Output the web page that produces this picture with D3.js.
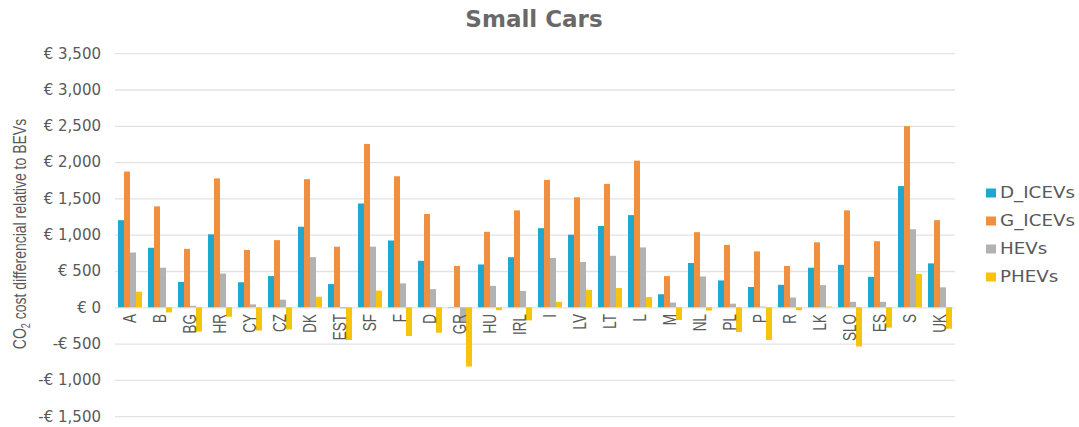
<!DOCTYPE html>
<html>
<head>
<meta charset="utf-8">
<script src="https://cdn.jsdelivr.net/npm/d3@7"></script>
<style>
  body { margin: 0; background: #fff; }
  svg { display: block; }
</style>
</head>
<body>
<div id="chart"></div>
<script>
// values, EUR
const countries = ['A', 'B', 'BG', 'HR', 'CY', 'CZ', 'DK', 'EST', 'SF', 'F', 'D', 'GR', 'HU', 'IRL',
  'I', 'LV', 'LT', 'L', 'M', 'NL', 'PL', 'P', 'R', 'LK', 'SLO', 'ES', 'S', 'UK'];
const seriesNames = ['D_ICEVs', 'G_ICEVs', 'HEVs', 'PHEVs'];
const dIcevs = [1200, 820, 350, 1005, 345, 430, 1110, 320, 1430, 920, 640, 5, 590, 690,
  1090, 1000, 1120, 1270, 180, 610, 370, 280, 310, 545, 585, 420, 1670, 605];
const gIcevs = [1870, 1390, 805, 1775, 790, 925, 1765, 835, 2250, 1805, 1285, 570, 1040, 1335,
  1755, 1515, 1700, 2020, 430, 1035, 860, 770, 570, 895, 1335, 910, 2495, 1200];
const hevs = [755, 545, 20, 465, 40, 105, 690, -15, 835, 330, 250, -195, 295, 225,
  680, 625, 710, 825, 65, 425, 50, 10, 135, 305, 75, 75, 1075, 275];
const phevs = [215, -70, -335, -130, -320, -305, 145, -450, 230, -395, -350, -815, -40, -180,
  75, 240, 265, 140, -175, -45, -340, -450, -40, 10, -540, -280, 460, -295];
const yTicks = [-1500, -1000, -500, 0, 500, 1000, 1500, 2000, 2500, 3000, 3500];
const colors = ['#1fa8cf', '#f08f3e', '#b2b2b2', '#f6c40c'];

const W = 1079, H = 427;
const plotL = 115, plotR = 955, plotT = 53.2, plotB = 416.2;
const allSeries = [dIcevs, gIcevs, hevs, phevs];

const svg = d3.select('#chart').append('svg').attr('width', W).attr('height', H);
svg.append('rect').attr('width', W).attr('height', H).attr('fill', '#fff');

const x0 = d3.scaleBand().domain(countries).range([plotL, plotR]).paddingInner(0.2).paddingOuter(0.1);
const x1 = d3.scaleBand().domain(seriesNames).range([0, x0.bandwidth()]);
const y = d3.scaleLinear().domain([-1500, 3500]).range([plotB, plotT]);

const euro = v => (v < 0 ? '-€ ' : '€ ') + d3.format(',')(Math.abs(v));

// gridlines + tick labels
const yAxis = svg.append('g')
  .attr('transform', `translate(${plotL},0)`)
  .call(d3.axisLeft(y).tickValues(yTicks).tickSize(-(plotR - plotL)).tickPadding(14).tickFormat(euro));
yAxis.select('.domain').remove();
yAxis.selectAll('.tick line').attr('stroke', '#e3e3e3').attr('stroke-width', 1.3);
yAxis.selectAll('.tick text')
  .attr('fill', '#595959').attr('font-family', 'DejaVu Sans').attr('font-size', 15);

// bars
const groups = svg.append('g').selectAll('g').data(countries).join('g')
  .attr('transform', d => `translate(${x0(d)},0)`);
groups.selectAll('rect')
  .data((c, i) => seriesNames.map((s, k) => ({ s, v: allSeries[k][i], k })))
  .join('rect')
  .attr('x', d => x1(d.s))
  .attr('width', x1.bandwidth())
  .attr('y', d => y(Math.max(0, d.v)))
  .attr('height', d => Math.abs(y(d.v) - y(0)))
  .attr('fill', d => colors[d.k]);

// category labels (the source picture is a bit stretched sideways)
svg.append('g').selectAll('text').data(countries).join('text')
  .attr('transform', d => `translate(${x0(d) + x0.bandwidth() / 2},314) scale(1.3,1) rotate(-90)`)
  .attr('text-anchor', 'end')
  .attr('dy', '0.35em')
  .attr('fill', '#595959')
  .attr('font-family', 'Liberation Sans')
  .attr('font-size', 13.5)
  .text(d => d);

// title
svg.append('text')
  .attr('x', 534).attr('y', 27)
  .attr('text-anchor', 'middle')
  .attr('font-family', 'DejaVu Sans').attr('font-weight', 'bold').attr('font-size', 23)
  .attr('fill', '#696969')
  .text('Small Cars');

// y axis title
const yt = svg.append('text')
  .attr('transform', 'translate(26,234) scale(1.35,1) rotate(-90)')
  .attr('text-anchor', 'middle')
  .attr('font-family', 'Liberation Sans').attr('font-size', 14)
  .attr('fill', '#595959');
yt.append('tspan').text('CO');
yt.append('tspan').attr('font-size', 9).attr('dy', 3).text('2');
yt.append('tspan').attr('dy', -3).text(' cost differencial relative to BEVs');

// legend
const lg = svg.append('g').selectAll('g').data(seriesNames).join('g')
  .attr('transform', (d, i) => `translate(986,${193 + i * 28})`);
lg.append('rect').attr('x', 0).attr('y', -4.5).attr('width', 10).attr('height', 9)
  .attr('fill', (d, i) => colors[i]);
lg.append('text').attr('transform', 'translate(14,0) scale(1.22,1)').attr('dy', '0.36em')
  .attr('font-family', 'DejaVu Sans').attr('font-size', 15).attr('fill', '#595959')
  .text(d => d);
</script>
</body>
</html>
